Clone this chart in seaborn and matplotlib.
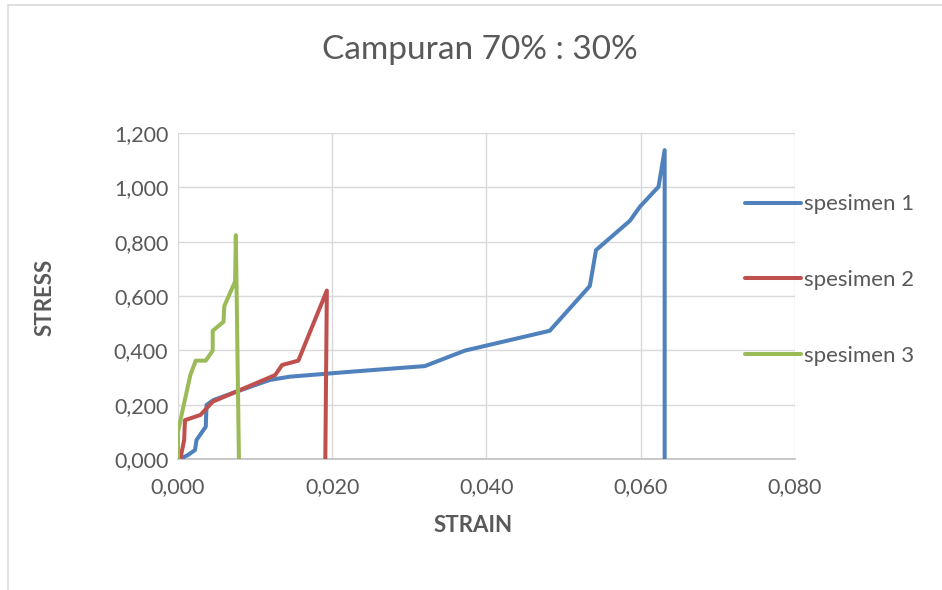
import matplotlib
matplotlib.use("Agg")
import matplotlib.pyplot as plt
import matplotlib.ticker as mticker
from matplotlib.lines import Line2D
import seaborn as sns
import pandas as pd

# Data
strain_1 = [0.0003, 0.0013, 0.0022, 0.0024, 0.0036, 0.0037, 0.0046, 0.0076, 0.0119, 0.0145,
            0.0223, 0.0320, 0.0372, 0.0482, 0.0534, 0.0542, 0.0586, 0.0599, 0.0623, 0.0631, 0.0631]
stress_1 = [0.000, 0.015, 0.033, 0.070, 0.119, 0.199, 0.217, 0.248, 0.291, 0.303,
            0.321, 0.342, 0.399, 0.472, 0.637, 0.769, 0.877, 0.929, 1.002, 1.137, 0.000]

strain_2 = [0.0003, 0.0008, 0.0009, 0.0029, 0.0045, 0.0126, 0.0135, 0.0156, 0.0193, 0.0191]
stress_2 = [0.000, 0.070, 0.143, 0.162, 0.211, 0.309, 0.346, 0.362, 0.620, 0.000]

strain_3 = [0.0000, 0.0000, 0.0006, 0.0016, 0.0023, 0.0036, 0.0045, 0.0045, 0.0059, 0.0060,
            0.0074, 0.0075, 0.0079]
stress_3 = [0.000, 0.100, 0.180, 0.309, 0.362, 0.362, 0.399, 0.472, 0.505, 0.563,
            0.653, 0.824, 0.000]

series_names = ["spesimen 1", "spesimen 2", "spesimen 3"]
colors = ["#4f81bd", "#c0504d", "#9bbb59"]
x_ticks = [0.0, 0.02, 0.04, 0.06, 0.08]
y_ticks = [0.0, 0.2, 0.4, 0.6, 0.8, 1.0, 1.2]
title = "Campuran 70% : 30%"

rows = []
for name, xs, ys in zip(series_names, [strain_1, strain_2, strain_3], [stress_1, stress_2, stress_3]):
    for i, (x, y) in enumerate(zip(xs, ys)):
        rows.append({"series": name, "order": i, "strain": x, "stress": y})
df = pd.DataFrame(rows)

sns.set_theme(style="white")
plt.rcParams["font.family"] = ["Lato", "DejaVu Sans"]

W, H = 942, 590
fig = plt.figure(figsize=(W / 100, H / 100), dpi=100)
ax = fig.add_axes([178 / W, 1 - 459 / H, (795 - 178) / W, (459 - 133) / H])

LW = 2.9
sns.lineplot(data=df, x="strain", y="stress", hue="series", units="series",
             estimator=None, sort=False, palette=colors, linewidth=LW,
             ax=ax, legend=False, zorder=3)

ax.set_xlim(0, 0.08)
ax.set_ylim(0, 1.2)
ax.set_xticks(x_ticks)
ax.set_yticks(y_ticks)
fmt = mticker.FuncFormatter(lambda v, p: f"{v:.3f}".replace(".", ","))
ax.xaxis.set_major_formatter(fmt)
ax.yaxis.set_major_formatter(fmt)
ax.grid(True, color="#d9d9d9", linewidth=1.0, zorder=0)
for s in ["top", "right", "left"]:
    ax.spines[s].set_visible(False)
ax.spines["bottom"].set_color("#bfbfbf")
ax.spines["bottom"].set_linewidth(1.2)
ax.tick_params(axis="both", length=0, labelsize=15.5, colors="#595959")
ax.tick_params(axis="x", pad=13)
ax.tick_params(axis="y", pad=7)
ax.set_xlabel("STRAIN", fontsize=16, fontweight="bold", color="#595959")
ax.set_ylabel("STRESS", fontsize=16, fontweight="bold", color="#595959")
ax.xaxis.set_label_coords((473 - 178) / 617, (459 - 515) / 326)
ax.yaxis.set_label_coords((56 - 178) / 617, (459 - 297) / 326)

fig.text(480 / W, 1 - 50 / H, title, ha="center", va="center", fontsize=24, color="#595959")

handles = [Line2D([0], [0], color=c, linewidth=LW) for c in colors]
fig.legend(handles, series_names, loc="center left",
           bbox_to_anchor=(745 / W, 1 - 280 / H), frameon=False,
           borderpad=0, borderaxespad=0,
           fontsize=16, labelspacing=2.5, handlelength=2.5, handletextpad=0.15,
           labelcolor="#595959")

# outer chart border
fig.add_artist(Line2D([8 / W, 1], [1 - 5 / H, 1 - 5 / H], color="#d9d9d9", linewidth=1.2))
fig.add_artist(Line2D([8 / W, 8 / W], [0, 1 - 5 / H], color="#d9d9d9", linewidth=1.2))

fig.savefig("out.png", dpi=100)
